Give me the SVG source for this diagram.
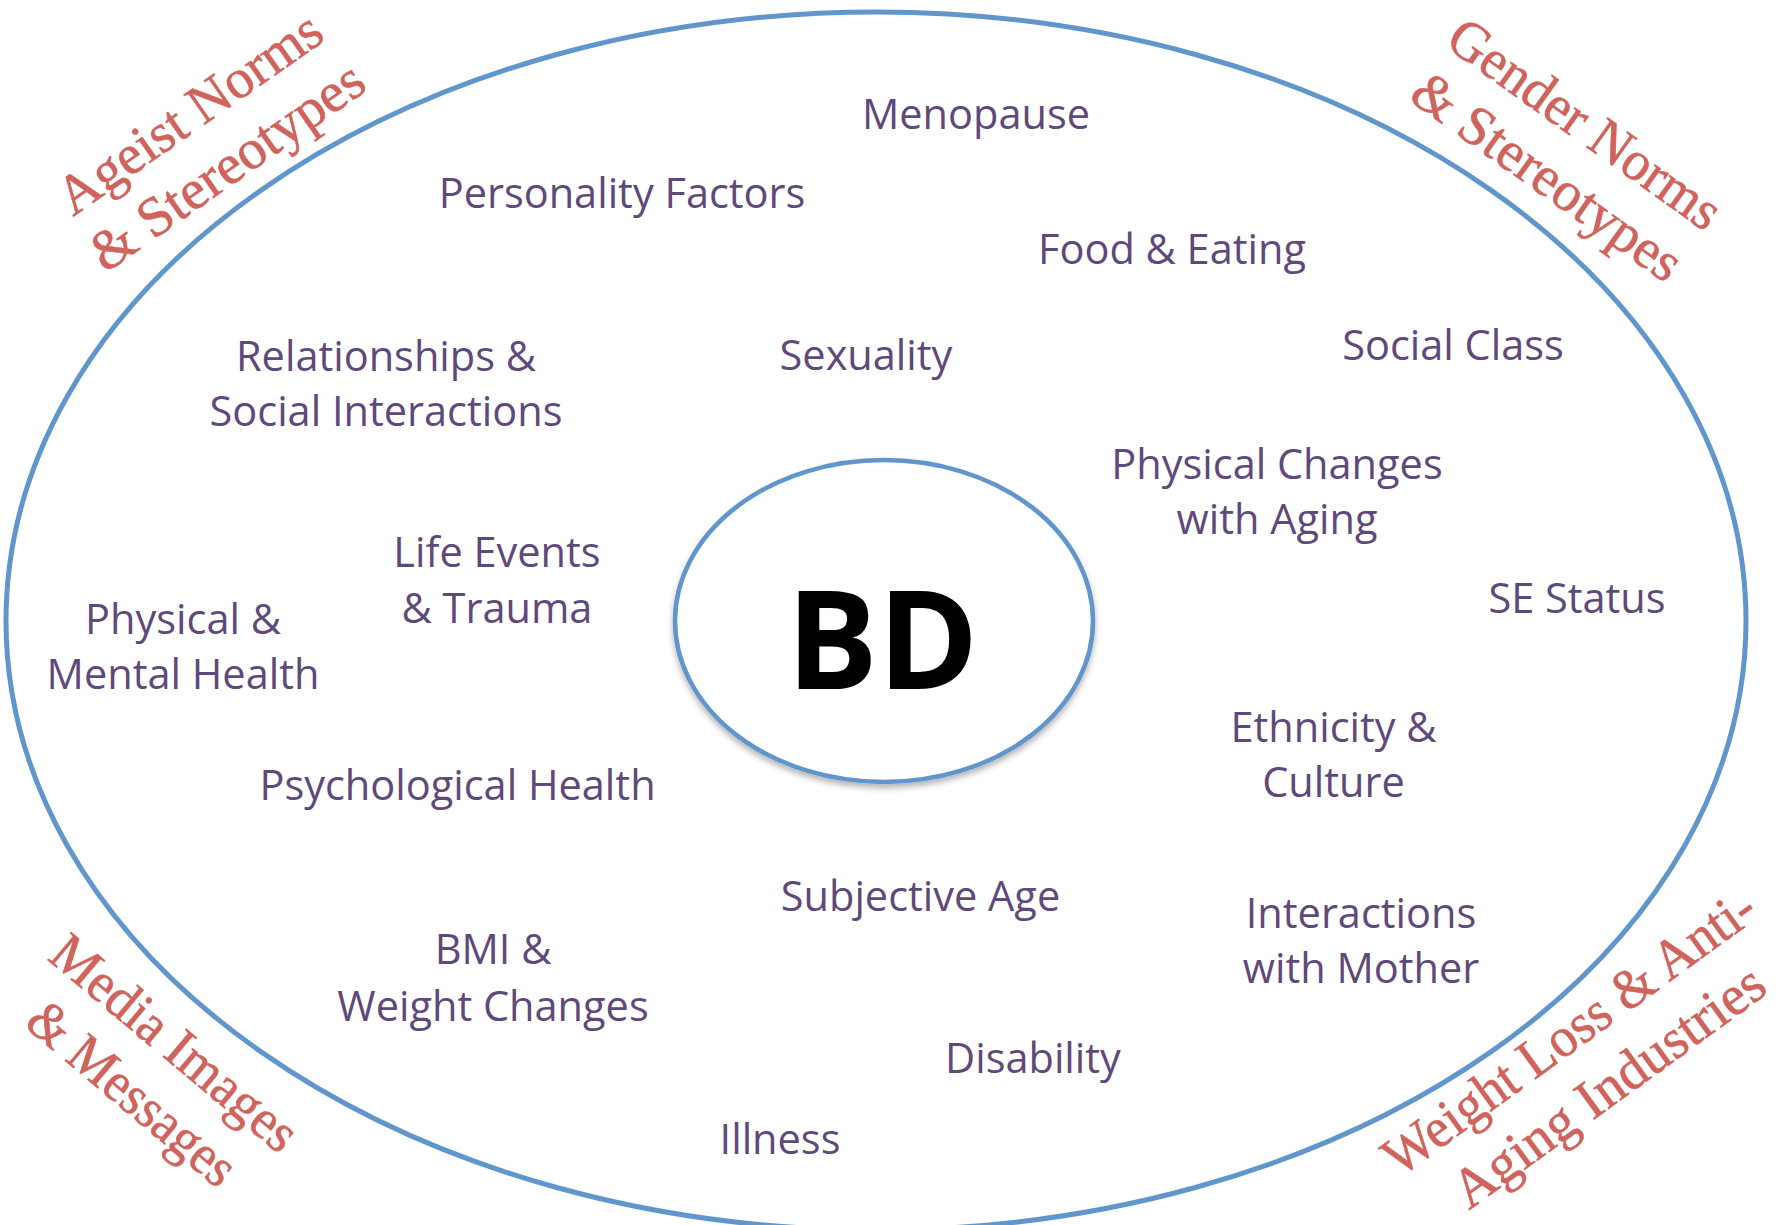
<svg xmlns="http://www.w3.org/2000/svg" width="1778" height="1225" viewBox="0 0 1778 1225">
  <defs>
    <filter id="soft-shadow" x="-10%" y="-10%" width="120%" height="125%">
      <feGaussianBlur in="SourceAlpha" stdDeviation="3"/>
      <feOffset dx="0" dy="4" result="blur"/>
      <feComponentTransfer><feFuncA type="linear" slope="0.3"/></feComponentTransfer>
      <feMerge><feMergeNode/><feMergeNode in="SourceGraphic"/></feMerge>
    </filter>
    <style>
      .ring { fill: none; stroke: #6096CB; stroke-width: 5; }
      .core { fill: #FFFFFF; stroke: #6096CB; stroke-width: 4.5; }
      .factor { font-family: "Open Sans", "Noto Sans", "DejaVu Sans", sans-serif; font-size: 41.5px; fill: #5F497A; text-anchor: middle; }
      .context { font-family: "Liberation Serif", "DejaVu Serif", serif; font-size: 56px; fill: #D0645C; stroke: #D0645C; stroke-width: 0.6; text-anchor: middle; }
      .hub { font-family: "Open Sans", "Noto Sans", "DejaVu Sans", sans-serif; font-size: 136px; font-weight: 700; fill: #000000; text-anchor: middle; }
    </style>
  </defs>

  <rect width="1778" height="1225" fill="#FFFFFF"/>

  <!-- outer boundary of influences -->
  <g id="boundary">
    <ellipse class="ring" cx="876" cy="621" rx="870" ry="609"/>
  </g>

  <!-- connectors: none drawn in this figure -->
  <g id="connectors"/>

  <!-- central body-dissatisfaction node -->
  <g id="bd">
    <ellipse class="core" cx="884" cy="621" rx="209" ry="161" filter="url(#soft-shadow)"/>
    <text class="hub" x="882.5" y="689">BD</text>
  </g>

  <!-- individual factors -->
  <g id="menopause"><text class="factor" x="976" y="129">Menopause</text></g>
  <g id="personality"><text class="factor" x="622" y="207.5">Personality Factors</text></g>
  <g id="food"><text class="factor" x="1172" y="264">Food &amp; Eating</text></g>
  <g id="social-class"><text class="factor" x="1453" y="359.5">Social Class</text></g>
  <g id="sexuality"><text class="factor" x="866" y="370">Sexuality</text></g>
  <g id="relationships">
    <text class="factor" x="386" y="371">Relationships &amp;</text>
    <text class="factor" x="386" y="426">Social Interactions</text>
  </g>
  <g id="physical-changes">
    <text class="factor" x="1277" y="478.5">Physical Changes</text>
    <text class="factor" x="1277" y="534">with Aging</text>
  </g>
  <g id="life-events">
    <text class="factor" x="497" y="567">Life Events</text>
    <text class="factor" x="497" y="622.5">&amp; Trauma</text>
  </g>
  <g id="physical-mental">
    <text class="factor" x="183" y="634">Physical &amp;</text>
    <text class="factor" x="183" y="689">Mental Health</text>
  </g>
  <g id="se-status"><text class="factor" x="1577" y="613">SE Status</text></g>
  <g id="ethnicity">
    <text class="factor" x="1333.5" y="741.5">Ethnicity &amp;</text>
    <text class="factor" x="1333.5" y="797">Culture</text>
  </g>
  <g id="psychological"><text class="factor" x="457.5" y="799.5">Psychological Health</text></g>
  <g id="subjective-age"><text class="factor" x="920.5" y="910.5">Subjective Age</text></g>
  <g id="mother">
    <text class="factor" x="1361" y="927.5">Interactions</text>
    <text class="factor" x="1361" y="983">with Mother</text>
  </g>
  <g id="bmi">
    <text class="factor" x="493" y="964">BMI &amp;</text>
    <text class="factor" x="493" y="1020.5">Weight Changes</text>
  </g>
  <g id="disability"><text class="factor" x="1033" y="1073">Disability</text></g>
  <g id="illness"><text class="factor" x="780" y="1154">Illness</text></g>

  <!-- societal contexts around the boundary -->
  <g id="ageist" transform="translate(200 128) rotate(-35)">
    <text class="context" x="0" y="0" textLength="310" lengthAdjust="spacingAndGlyphs">Ageist Norms</text>
    <text class="context" x="0" y="65" textLength="322" lengthAdjust="spacingAndGlyphs">&amp; Stereotypes</text>
  </g>
  <g id="gender" transform="translate(1574.5 138.7) rotate(35.5)">
    <text class="context" x="0" y="0" textLength="322" lengthAdjust="spacingAndGlyphs">Gender Norms</text>
    <text class="context" x="0" y="65" textLength="318" lengthAdjust="spacingAndGlyphs">&amp; Stereotypes</text>
  </g>
  <g id="media" transform="translate(163 1057) rotate(40)">
    <text class="context" x="0" y="0" textLength="305" lengthAdjust="spacingAndGlyphs">Media Images</text>
    <text class="context" x="0" y="66" textLength="255" lengthAdjust="spacingAndGlyphs">&amp; Messages</text>
  </g>
  <g id="industries" transform="translate(1580 1047) rotate(-36)">
    <text class="context" x="0" y="0" textLength="446" lengthAdjust="spacingAndGlyphs">Weight Loss &amp; Anti-</text>
    <text class="context" x="0" y="67" textLength="372" lengthAdjust="spacingAndGlyphs">Aging Industries</text>
  </g>
</svg>
